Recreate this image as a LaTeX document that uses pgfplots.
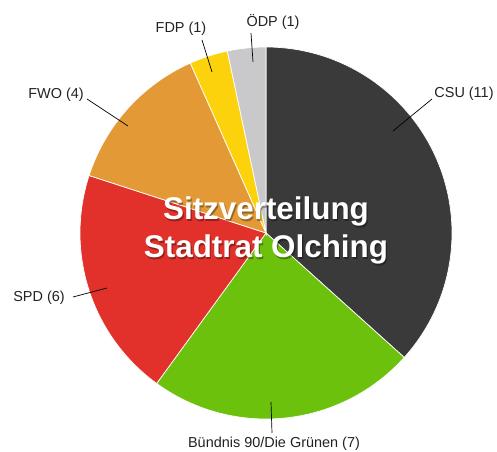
\documentclass[border=0pt]{standalone}
\usepackage{pgfplots}
\pgfplotsset{compat=1.18}
\usepackage{pgfplotstable}
\usepackage{fontspec}
\setmainfont{Liberation Sans}
\definecolor{csu}{HTML}{3A3A3A}
\definecolor{gruene}{HTML}{6CC10C}
\definecolor{spd}{HTML}{E2302B}
\definecolor{fwo}{HTML}{E39A36}
\definecolor{fdp}{HTML}{FCD20C}
\definecolor{oedp}{HTML}{C9C9CB}
\definecolor{lbl}{HTML}{222222}
\pgfplotstableread{
party seats
CSU 11
Gruene 7
SPD 6
FWO 4
FDP 1
OEDP 1
}\seats
\begin{document}
\begin{tikzpicture}
% cumulative angles (clockwise from 12 o'clock), total 30 seats
\pgfplotstablegetelem{0}{seats}\of\seats \pgfmathsetmacro{\sA}{\pgfplotsretval}
\pgfplotstablegetelem{1}{seats}\of\seats \pgfmathsetmacro{\sB}{\pgfplotsretval}
\pgfplotstablegetelem{2}{seats}\of\seats \pgfmathsetmacro{\sC}{\pgfplotsretval}
\pgfplotstablegetelem{3}{seats}\of\seats \pgfmathsetmacro{\sD}{\pgfplotsretval}
\pgfplotstablegetelem{4}{seats}\of\seats \pgfmathsetmacro{\sE}{\pgfplotsretval}
\pgfplotstablegetelem{5}{seats}\of\seats \pgfmathsetmacro{\sF}{\pgfplotsretval}
\pgfmathsetmacro{\tot}{\sA+\sB+\sC+\sD+\sE+\sF}
\pgfmathsetmacro{\aA}{360*\sA/\tot}
\pgfmathsetmacro{\aB}{\aA+360*\sB/\tot}
\pgfmathsetmacro{\aC}{\aB+360*\sC/\tot}
\pgfmathsetmacro{\aD}{\aC+360*\sD/\tot}
\pgfmathsetmacro{\aE}{\aD+360*\sE/\tot}
\pgfmathsetmacro{\aF}{\aE+360*\sF/\tot}
\begin{axis}[
  width=497bp, height=452bp, scale only axis,
  xmin=0, xmax=497, ymin=0, ymax=452,
  hide axis, clip=false,
  every axis plot/.append style={draw=white, line width=0.7pt, samples=80, smooth},
]
\path (rel axis cs:0,0) rectangle (rel axis cs:1,1);
\def\cx{266}\def\cy{219}\def\r{186}
\addplot[fill=csu, domain=0:\aA] ({\cx+\r*sin(x)},{\cy+\r*cos(x)}) -- (axis cs:\cx,\cy) -- cycle;
\addplot[fill=gruene, domain=\aA:\aB] ({\cx+\r*sin(x)},{\cy+\r*cos(x)}) -- (axis cs:\cx,\cy) -- cycle;
\addplot[fill=spd, domain=\aB:\aC] ({\cx+\r*sin(x)},{\cy+\r*cos(x)}) -- (axis cs:\cx,\cy) -- cycle;
\addplot[fill=fwo, domain=\aC:\aD] ({\cx+\r*sin(x)},{\cy+\r*cos(x)}) -- (axis cs:\cx,\cy) -- cycle;
\addplot[fill=fdp, domain=\aD:\aE] ({\cx+\r*sin(x)},{\cy+\r*cos(x)}) -- (axis cs:\cx,\cy) -- cycle;
\addplot[fill=oedp, domain=\aE:\aF] ({\cx+\r*sin(x)},{\cy+\r*cos(x)}) -- (axis cs:\cx,\cy) -- cycle;

% leader lines
\draw[black, line width=0.7pt] (axis cs:251,419) -- (axis cs:253,390);
\draw[black, line width=0.7pt] (axis cs:202,412) -- (axis cs:212,380);
\draw[black, line width=0.7pt] (axis cs:432,353) -- (axis cs:393,321);
\draw[black, line width=0.7pt] (axis cs:87,353) -- (axis cs:128,326);
\draw[black, line width=0.7pt] (axis cs:73,155) -- (axis cs:107,164);
\draw[black, line width=0.7pt] (axis cs:272,19) -- (axis cs:271,50);

% labels
\begin{scope}[every node/.style={text=lbl, font=\fontsize{14.5}{16}\selectfont, inner sep=0pt}]
\node at (axis cs:273,430) {ÖDP (1)};
\node at (axis cs:181,423) {FDP (1)};
\node at (axis cs:464,358) {CSU (11)};
\node at (axis cs:56,357) {FWO (4)};
\node at (axis cs:39,154) {SPD (6)};
\node at (axis cs:274,8) {Bündnis 90/Die Grünen (7)};
\end{scope}

% title with soft shadow
\node[text=black, opacity=0.35, font=\bfseries\fontsize{31.5}{38}\selectfont, align=center, inner sep=0pt, anchor=base] at (axis cs:267.2,230.8) {Sitzverteilung};
\node[text=black, opacity=0.35, font=\bfseries\fontsize{31.5}{38}\selectfont, align=center, inner sep=0pt, anchor=base] at (axis cs:267.2,192.8) {Stadtrat Olching};
\node[text=white, font=\bfseries\fontsize{31.5}{38}\selectfont, inner sep=0pt, anchor=base] at (axis cs:266,232) {Sitzverteilung};
\node[text=white, font=\bfseries\fontsize{31.5}{38}\selectfont, inner sep=0pt, anchor=base] at (axis cs:266,194) {Stadtrat Olching};
\end{axis}
\end{tikzpicture}
\end{document}
